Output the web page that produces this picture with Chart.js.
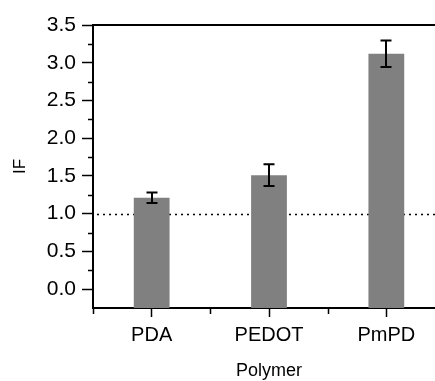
<!DOCTYPE html>
<html>
<head>
<meta charset="utf-8">
<script src="https://cdn.jsdelivr.net/npm/chart.js@4"></script>
<style>
  html, body { margin: 0; padding: 0; background: #fff; overflow: hidden; }
  #wrap { width: 445px; height: 381px; }
</style>
</head>
<body>
<div id="wrap"><canvas id="ifChart"></canvas></div>
<script>
// data
const categories = ['PDA', 'PEDOT', 'PmPD'];
const ifValues = [1.21, 1.51, 3.12];
const ifErrors = [0.07, 0.145, 0.175];
const yTicks = [0.0, 0.5, 1.0, 1.5, 2.0, 2.5, 3.0, 3.5];
const yMinorTicks = [0.25, 0.75, 1.25, 1.75, 2.25, 2.75, 3.25];
const yMin = -0.25, yMax = 3.5;
const refLevel = 1.0;

const FONT = "'Liberation Sans', Arial, sans-serif";

// error bars, dotted reference line, top frame and minor ticks
const extras = {
    id: 'extras',
    beforeDatasetsDraw(chart) {
        const ctx = chart.ctx, a = chart.chartArea, y = chart.scales.y;
        const yr = Math.round(y.getPixelForValue(refLevel)) + 0.5;
        ctx.save();
        ctx.strokeStyle = '#000';
        ctx.lineWidth = 1.5;
        ctx.setLineDash([2, 4]);
        ctx.beginPath();
        ctx.moveTo(a.left + 4, yr);
        ctx.lineTo(a.right, yr);
        ctx.stroke();
        ctx.restore();
    },
    afterDatasetsDraw(chart) {
        const ctx = chart.ctx, y = chart.scales.y;
        const meta = chart.getDatasetMeta(0);
        ctx.save();
        ctx.strokeStyle = '#000';
        ctx.lineWidth = 2;
        meta.data.forEach((bar, i) => {
            const top = y.getPixelForValue(ifValues[i] + ifErrors[i]);
            const bot = y.getPixelForValue(ifValues[i] - ifErrors[i]);
            const cx = Math.round(bar.x);
            ctx.beginPath();
            ctx.moveTo(cx, top); ctx.lineTo(cx, bot);
            ctx.moveTo(cx - 5.5, top); ctx.lineTo(cx + 5.5, top);
            ctx.moveTo(cx - 5.5, bot); ctx.lineTo(cx + 5.5, bot);
            ctx.stroke();
        });
        ctx.restore();
    },
    afterDraw(chart) {
        const ctx = chart.ctx, a = chart.chartArea, x = chart.scales.x, y = chart.scales.y;
        ctx.save();
        ctx.strokeStyle = '#000';
        ctx.lineWidth = 2;
        ctx.beginPath();
        ctx.moveTo(a.left, a.top);
        ctx.lineTo(a.right, a.top);
        ctx.stroke();

        ctx.lineWidth = 1.5;
        ctx.beginPath();
        yMinorTicks.forEach(v => {
            const py = Math.round(y.getPixelForValue(v)) + 0.5;
            ctx.moveTo(a.left - 5, py); ctx.lineTo(a.left, py);
        });
        const step = x.getPixelForValue(1) - x.getPixelForValue(0);
        for (let i = 0; i < categories.length; i++) {
            const px = Math.round(x.getPixelForValue(i) - step / 2) + 0.5;
            ctx.moveTo(px, a.bottom); ctx.lineTo(px, a.bottom + 6);
        }
        ctx.stroke();
        ctx.restore();
    }
};

var ctx = document.getElementById('ifChart').getContext('2d');
var ifChart = new Chart(ctx, {
    type: 'bar',
    data: {
        labels: categories,
        datasets: [{
            label: 'IF',
            data: ifValues,
            base: yMin,
            backgroundColor: '#808080',
            borderWidth: 0,
            barPercentage: 0.305,
            categoryPercentage: 1
        }]
    },
    options: {
        responsive: true,
        maintainAspectRatio: false,
        animation: false,
        layout: { padding: { top: 25, left: 0, right: 0, bottom: 0 } },
        plugins: {
            legend: { display: false },
            tooltip: { enabled: false }
        },
        scales: {
            x: {
                offset: true,
                grid: {
                    offset: false,
                    drawOnChartArea: false,
                    drawTicks: true,
                    tickLength: 9,
                    tickColor: '#000',
                    tickWidth: 1.5
                },
                border: { display: true, color: '#000', width: 2 },
                ticks: {
                    color: '#000',
                    padding: 6,
                    maxRotation: 0,
                    font: { family: FONT, size: 20 }
                },
                title: {
                    display: true,
                    text: 'Polymer',
                    color: '#000',
                    padding: { top: 0, bottom: -1 },
                    font: { family: FONT, size: 18 }
                },
                afterFit(scale) { scale.height = 73; }
            },
            y: {
                min: yMin,
                max: yMax,
                afterBuildTicks(scale) {
                    scale.ticks = yTicks.map(v => ({ value: v }));
                },
                grid: {
                    drawOnChartArea: false,
                    drawTicks: true,
                    tickLength: 11,
                    tickColor: '#000',
                    tickWidth: 1.5
                },
                border: { display: true, color: '#000', width: 2 },
                ticks: {
                    color: '#000',
                    padding: 6,
                    font: { family: FONT, size: 21 },
                    callback: v => Number(v).toFixed(1)
                },
                title: {
                    display: true,
                    text: 'IF',
                    color: '#000',
                    padding: { top: 10, bottom: 0 },
                    font: { family: FONT, size: 17 }
                },
                afterFit(scale) { scale.width = 93; }
            }
        }
    },
    plugins: [extras]
});
</script>
</body>
</html>
